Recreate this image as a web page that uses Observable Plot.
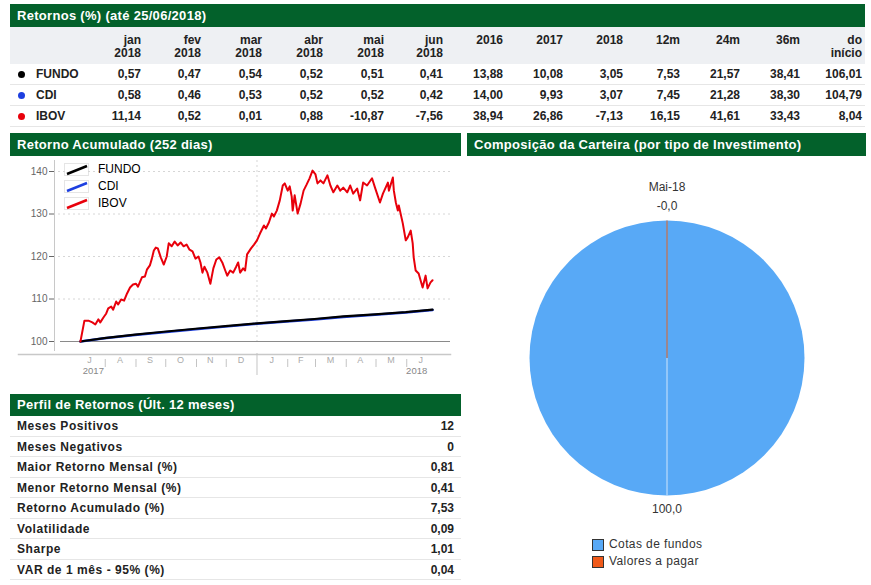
<!DOCTYPE html>
<html><head><meta charset="utf-8">
<script src="https://cdn.jsdelivr.net/npm/d3@7"></script>
<script src="https://cdn.jsdelivr.net/npm/@observablehq/plot@0.6"></script>
<style>
body{margin:0;background:#fff;font-family:Arial,"Liberation Sans",sans-serif;width:871px;height:585px;position:relative;overflow:hidden}
.bar{position:absolute;background:#03612b;color:#fff;font-weight:bold;font-size:13px;line-height:23px;padding-left:7px;box-sizing:border-box;white-space:nowrap;letter-spacing:0.3px}
.cell{position:absolute;text-align:right;font-weight:bold;font-size:12px;color:#222;white-space:nowrap}
.row{position:absolute;box-sizing:border-box;border-bottom:1px solid #e6e6e6}
.lbl{position:absolute;font-weight:bold;font-size:12px;color:#222;white-space:nowrap}
.plbl{letter-spacing:0.55px}
.dot{position:absolute;width:7px;height:7px;border-radius:50%}
#chart,#pie{position:absolute}
.leg{position:absolute;font-size:12px;color:#000;white-space:nowrap}
.pleg{position:absolute;font-size:12px;color:#333;white-space:nowrap;letter-spacing:0.4px}
.sq{position:absolute;width:10px;height:10px;border:1px solid #333}
</style></head>
<body>
<script>
// ---------- DATA ----------
const headTop = ["jan","fev","mar","abr","mai","jun","2016","2017","2018","12m","24m","36m","do"];
const headBottom = ["2018","2018","2018","2018","2018","2018","","","","","","","início"];
const seriesNames = ["FUNDO","CDI","IBOV"];
const fundoRet = [0.57,0.47,0.54,0.52,0.51,0.41,13.88,10.08,3.05,7.53,21.57,38.41,106.01];
const cdiRet   = [0.58,0.46,0.53,0.52,0.52,0.42,14.00,9.93,3.07,7.45,21.28,38.30,104.79];
const ibovRet  = [11.14,0.52,0.01,0.88,-10.87,-7.56,38.94,26.86,-7.13,16.15,41.61,33.43,8.04];

const perfilLabels = ["Meses Positivos","Meses Negativos","Maior Retorno Mensal (%)","Menor Retorno Mensal (%)","Retorno Acumulado (%)","Volatilidade","Sharpe","VAR de 1 mês - 95% (%)"];
const perfilValues = ["12","0","0,81","0,41","7,53","0,09","1,01","0,04"];

const ibovDates = ["2017-07-07","2017-07-11","2017-07-15","2017-07-19","2017-07-22","2017-07-25","2017-07-27","2017-07-30","2017-08-02","2017-08-04","2017-08-07","2017-08-09","2017-08-12","2017-08-14","2017-08-17","2017-08-20","2017-08-23","2017-08-26","2017-08-29","2017-09-01","2017-09-03","2017-09-07","2017-09-10","2017-09-12","2017-09-15","2017-09-17","2017-09-19","2017-09-21","2017-09-23","2017-09-26","2017-09-29","2017-10-02","2017-10-04","2017-10-07","2017-10-10","2017-10-13","2017-10-16","2017-10-19","2017-10-22","2017-10-25","2017-10-28","2017-10-31","2017-11-03","2017-11-05","2017-11-07","2017-11-09","2017-11-12","2017-11-15","2017-11-18","2017-11-21","2017-11-24","2017-11-27","2017-11-30","2017-12-02","2017-12-05","2017-12-08","2017-12-11","2017-12-13","2017-12-15","2017-12-18","2017-12-20","2017-12-22","2017-12-26","2017-12-29","2018-01-01","2018-01-04","2018-01-08","2018-01-10","2018-01-13","2018-01-16","2018-01-18","2018-01-21","2018-01-24","2018-01-27","2018-01-29","2018-02-01","2018-02-03","2018-02-05","2018-02-06","2018-02-08","2018-02-11","2018-02-14","2018-02-17","2018-02-20","2018-02-23","2018-02-26","2018-03-01","2018-03-03","2018-03-06","2018-03-09","2018-03-13","2018-03-16","2018-03-19","2018-03-23","2018-03-26","2018-03-29","2018-04-02","2018-04-05","2018-04-08","2018-04-12","2018-04-15","2018-04-18","2018-04-22","2018-04-27","2018-04-30","2018-05-05","2018-05-08","2018-05-13","2018-05-14","2018-05-18","2018-05-19","2018-05-21","2018-05-23","2018-05-24","2018-05-28","2018-05-31","2018-06-02","2018-06-05","2018-06-07","2018-06-08","2018-06-10","2018-06-13","2018-06-17","2018-06-20","2018-06-22","2018-06-25","2018-06-27"];
const ibovValues = [100.0,104.9,104.9,104.5,104.0,105.2,104.5,105.6,106.6,107.8,108.2,107.5,109.4,108.7,109.9,109.6,111.3,112.7,113.4,113.6,112.9,115.1,115.3,116.9,117.9,119.5,121.4,122.1,121.9,119.8,118.1,120.0,123.1,122.4,123.5,122.6,123.3,122.4,122.8,121.6,121.2,119.5,120.0,118.6,116.2,117.6,116.2,113.6,117.2,119.3,119.8,118.6,116.7,115.5,116.7,116.2,117.6,118.6,116.2,117.2,116.7,120.5,121.9,122.8,123.8,125.4,127.3,126.6,128.0,130.1,129.4,130.8,133.2,136.7,137.2,135.5,136.5,134.1,130.8,134.4,130.1,132.5,135.5,136.9,138.4,140.2,139.3,137.2,137.9,137.2,139.1,136.7,135.1,136.7,135.5,136.2,135.1,136.7,134.8,136.0,133.2,137.4,136.7,138.4,136.2,132.7,134.8,137.4,135.5,138.6,135.5,132.7,130.8,132.0,127.8,123.8,124.5,126.1,123.1,119.8,116.7,116.0,112.7,115.5,112.5,113.9,114.4];

const rfDates  = ["2017-07-07","2017-07-31","2017-08-31","2017-09-29","2017-10-31","2017-11-30","2017-12-29","2018-01-31","2018-02-28","2018-03-29","2018-04-30","2018-05-31","2018-06-27"];
const fundoAcc = [100.0,100.8,101.6,102.3,103.0,103.6,104.2,104.8,105.3,105.9,106.4,106.9,107.5];
const cdiAcc   = [100.0,100.75,101.55,102.2,102.9,103.5,104.1,104.7,105.2,105.75,106.3,106.8,107.4];

const monthLabels = ["J","A","S","O","N","D","J","F","M","A","M","J"];
const monthMids = ["2017-07-16","2017-08-16","2017-09-15","2017-10-16","2017-11-15","2017-12-16","2018-01-16","2018-02-14","2018-03-16","2018-04-15","2018-05-16","2018-06-15"];
const monthStarts = ["2017-08-01","2017-09-01","2017-10-01","2017-11-01","2017-12-01","2018-02-01","2018-03-01","2018-04-01","2018-05-01","2018-06-01"];
const yearBreak = "2018-01-01";
const yearLabels = ["2017","2018"];
const yearLabelDates = ["2017-07-20","2018-06-11"];
const yTicks = [100,110,120,130,140];

const pieLabels = ["Cotas de fundos","Valores a pagar"];
const pieValues = [100.0,-0.0];
const pieColors = ["#58a9f6","#f05a1a"];
const pieDate = "Mai-18";

// ---------- HELPERS ----------
const fmt = v => (Object.is(v,-0) ? "-0,0" : v.toFixed(2).replace(".",","));
const el = (cls, style, html) => { const d=document.createElement("div"); d.className=cls; Object.assign(d.style,style); if(html!==undefined) d.innerHTML=html; document.body.appendChild(d); return d; };

// ---------- TOP TABLE ----------
el("bar",{left:"10px",top:"4px",width:"855px",height:"23px"},"Retornos (%) (até 25/06/2018)");
el("row",{left:"10px",top:"27px",width:"855px",height:"37px",background:"#eef0f3",border:"none"});
const colRight = [141,201,262,323,384,443,503,563,623,680,740,800,862];
headTop.forEach((h,i)=>{
  el("cell",{left:(colRight[i]-60)+"px",width:"60px",top:"34px",lineHeight:"13px"},h+"<br>"+(headBottom[i]||"&nbsp;"));
});
const dotColors = ["#000","#1d3fe0","#e8000b"];
[fundoRet,cdiRet,ibovRet].forEach((arr,r)=>{
  const top = 64+21*r;
  el("row",{left:"10px",top:top+"px",width:"855px",height:"21px"});
  el("dot",{left:"18px",top:(top+7)+"px",background:dotColors[r]});
  el("lbl",{left:"36px",top:top+"px",lineHeight:"21px"},seriesNames[r]);
  arr.forEach((v,i)=>{
    el("cell",{left:(colRight[i]-60)+"px",width:"60px",top:top+"px",lineHeight:"21px"},fmt(v));
  });
});

// ---------- LINE CHART ----------
el("bar",{left:"10px",top:"133px",width:"451px",height:"23px"},"Retorno Acumulado (252 dias)");
const D = s => new Date(s+"T00:00:00Z");
const ibov = ibovDates.map((d,i)=>({date:D(d),value:ibovValues[i]}));
const fundo = rfDates.map((d,i)=>({date:D(d),value:fundoAcc[i]}));
const cdi = rfDates.map((d,i)=>({date:D(d),value:cdiAcc[i]}));
const months = monthLabels.map((m,i)=>({date:D(monthMids[i]),label:m}));
const years = yearLabels.map((y,i)=>({date:D(yearLabelDates[i]),label:y}));

const chart = Plot.plot({
  width: 451, height: 234,
  marginLeft: 44, marginTop: 4, marginBottom: 40, marginRight: 11,
  x: {type:"utc", domain:[D("2017-07-01"), D("2018-07-01")], range:[64,426], axis:null},
  y: {domain:[100,140], range:[185,15], axis:null},
  style: {fontFamily:"Arial, 'Liberation Sans', sans-serif", fontSize:"10px", color:"#666", background:"white"},
  marks: [
    Plot.ruleY(yTicks.slice(1), {stroke:"#d6d6d6", strokeDasharray:"2,3", insetLeft:4}),
    Plot.ruleX([D(yearBreak)], {stroke:"#d6d6d6", strokeDasharray:"2,3", insetBottom:9}),
    Plot.ruleY([100], {stroke:"#8a8a8a", insetLeft:6}),
    Plot.frame({anchor:"left", stroke:"#c8c8c8"}),
    Plot.frame({anchor:"bottom", stroke:"#c8c8c8", insetLeft:-36, insetBottom:-4, strokeWidth:1.5}),
    Plot.axisY(yTicks, {anchor:"left", tickSize:5, tickPadding:2, label:null, color:"#666", fontSize:10}),
    Plot.ruleX(monthStarts.map(D), {stroke:"#c4c4c4", insetTop:199, insetBottom:-17}),
    Plot.ruleX([D(yearBreak)], {stroke:"#c4c4c4", insetTop:193, insetBottom:-25}),
    Plot.text(months, {x:"date", text:"label", frameAnchor:"bottom", dy:12, fill:"#aaa", fontSize:9}),
    Plot.text(years, {x:"date", text:"label", frameAnchor:"bottom", dy:23, fill:"#888", fontSize:9.5}),
    Plot.line(cdi, {x:"date", y:"value", stroke:"#1d3fe0", strokeWidth:2.5}),
    Plot.line(fundo, {x:"date", y:"value", stroke:"#000", strokeWidth:2.2}),
    Plot.line(ibov, {x:"date", y:"value", stroke:"#e8000b", strokeWidth:2, strokeLinejoin:"round"})
  ]
});
const cw = el("", {left:"10px", top:"156px"}); cw.id="chart"; cw.appendChild(chart);

// in-chart legend
const legColors = ["#000","#1d3fe0","#e8000b"];
seriesNames.forEach((n,i)=>{
  const top = 163+17*i;
  el("leg",{left:"64px",top:top+"px",width:"26px",height:"14px"},
    `<svg width="26" height="14"><rect x="0.5" y="0.5" width="24" height="12" fill="white" stroke="#aaa" stroke-width="0.6" stroke-dasharray="1,1"/><line x1="3" y1="11" x2="23" y2="3" stroke="${legColors[i]}" stroke-width="2.5"/></svg>`);
  el("leg",{left:"98px",top:(top-1)+"px",lineHeight:"15px"},n);
});

// ---------- PERFIL TABLE ----------
el("bar",{left:"10px",top:"394px",width:"451px",height:"22px",lineHeight:"22px"},"Perfil de Retornos (Últ. 12 meses)");
perfilLabels.forEach((l,i)=>{
  const top = 416+20.5*i;
  el("row",{left:"10px",top:top+"px",width:"451px",height:"20.5px"});
  el("lbl plbl",{left:"17px",top:top+"px",lineHeight:"20px"},l);
  el("cell",{left:"394px",width:"60px",top:top+"px",lineHeight:"20px"},perfilValues[i]);
});

// ---------- PIE ----------
el("bar",{left:"467px",top:"133px",width:"399px",height:"23px"},"Composição da Carteira (por tipo de Investimento)");
const W=400,H=429,cx=200,cy=202,R=137.5;
const svg = d3.create("svg").attr("width",W).attr("height",H);
const arcs = d3.pie().sort(null).value(d=>Math.abs(d))(pieValues);
const arc = d3.arc().innerRadius(0).outerRadius(R);
const g = svg.append("g").attr("transform",`translate(${cx},${cy})`);
g.selectAll("path").data(arcs).join("path")
  .attr("d",arc)
  .attr("fill",(d,i)=>pieColors[i])
  .attr("stroke",(d,i)=> i===0 ? "none" : "#c8704a")
  .attr("stroke-width",1.2);
// leader of the large slice label
g.append("line").attr("x1",0).attr("y1",0).attr("x2",0).attr("y2",R).attr("stroke","#cfe5fb").attr("stroke-width",1);
arcs.forEach((a,i)=>{
  const mid=(a.startAngle+a.endAngle)/2;
  const rr = R + 14;
  g.append("text").attr("x",Math.sin(mid)*rr).attr("y",-Math.cos(mid)*rr)
    .attr("text-anchor","middle").attr("dominant-baseline","middle")
    .attr("font-size",12).attr("fill","#333").attr("font-family","Arial, 'Liberation Sans', sans-serif")
    .text(i===0 ? "100,0" : "-0,0");
});
g.append("text").attr("x",0).attr("y",-R-33).attr("text-anchor","middle").attr("dominant-baseline","middle")
  .attr("font-size",12).attr("fill","#333").attr("font-family","Arial, 'Liberation Sans', sans-serif").text(pieDate);
const pw = el("",{left:"467px",top:"156px"}); pw.id="pie"; pw.appendChild(svg.node());

pieLabels.forEach((l,i)=>{
  const top = 539+17*i;
  el("sq",{left:"592px",top:top+"px",background:pieColors[i]});
  el("pleg",{left:"609px",top:(top-2)+"px",lineHeight:"15px"},l);
});
</script>
</body></html>
